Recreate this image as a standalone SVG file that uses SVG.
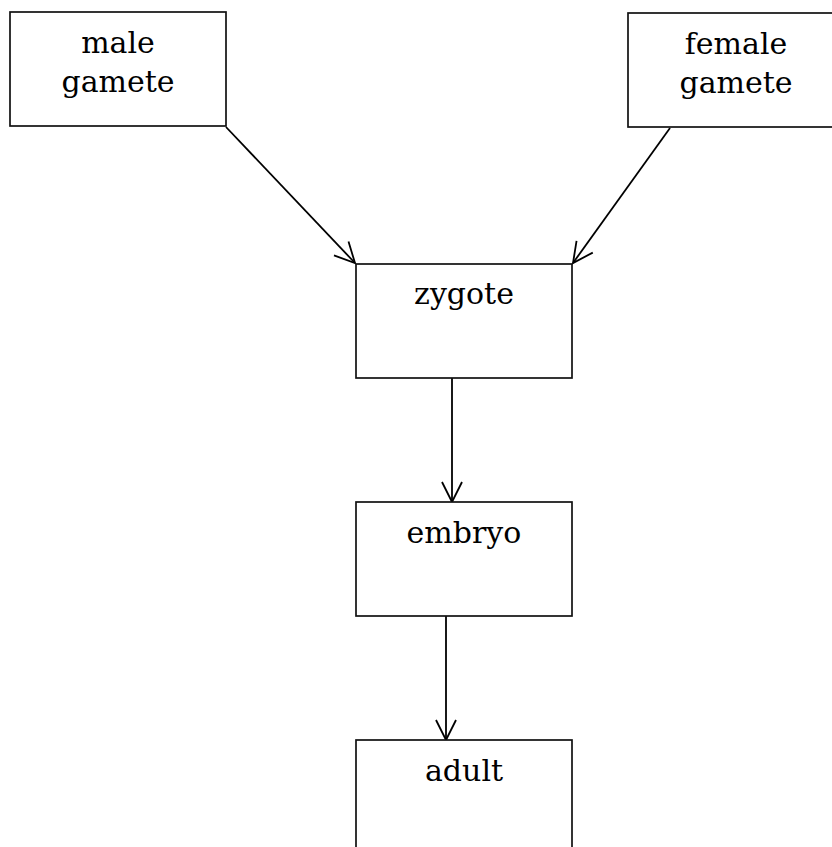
<svg xmlns="http://www.w3.org/2000/svg" width="832" height="847" viewBox="0 0 832 847">
<defs>
<style>
.box{fill:#fff;stroke:#111;stroke-width:1.7}
.lbl{font-family:"DejaVu Serif","Liberation Serif",serif;font-size:30px;fill:#000;text-anchor:middle}
.edge{fill:none;stroke:#000;stroke-width:1.8}
</style>
<marker id="arr" markerUnits="userSpaceOnUse" markerWidth="26" markerHeight="26" viewBox="-22 -13 26 26" refX="0" refY="0" orient="auto">
<path d="M-20,-10 L0,0 L-20,10" fill="none" stroke="#000" stroke-width="1.8"/>
</marker>
</defs>
<rect width="832" height="847" fill="#fff"/>
<g id="connectors">
<line class="edge" x1="226" y1="127" x2="355" y2="263" marker-end="url(#arr)"/>
<line class="edge" x1="670" y1="128" x2="573" y2="263" marker-end="url(#arr)"/>
<line class="edge" x1="452" y1="378" x2="452" y2="502" marker-end="url(#arr)"/>
<line class="edge" x1="446" y1="616" x2="446" y2="740" marker-end="url(#arr)"/>
</g>
<g id="male">
<rect class="box" x="10" y="12" width="216" height="114"/>
<text class="lbl" x="118" y="53">male</text>
<text class="lbl" x="118" y="92">gamete</text>
</g>
<g id="female">
<rect class="box" x="628" y="13" width="216" height="114"/>
<text class="lbl" x="736" y="54">female</text>
<text class="lbl" x="736" y="93">gamete</text>
</g>
<g id="zygote">
<rect class="box" x="356" y="264" width="216" height="114"/>
<text class="lbl" x="464" y="304">zygote</text>
</g>
<g id="embryo">
<rect class="box" x="356" y="502" width="216" height="114"/>
<text class="lbl" x="464" y="543">embryo</text>
</g>
<g id="adult">
<rect class="box" x="356" y="740" width="216" height="114"/>
<text class="lbl" x="464" y="781">adult</text>
</g>
</svg>
